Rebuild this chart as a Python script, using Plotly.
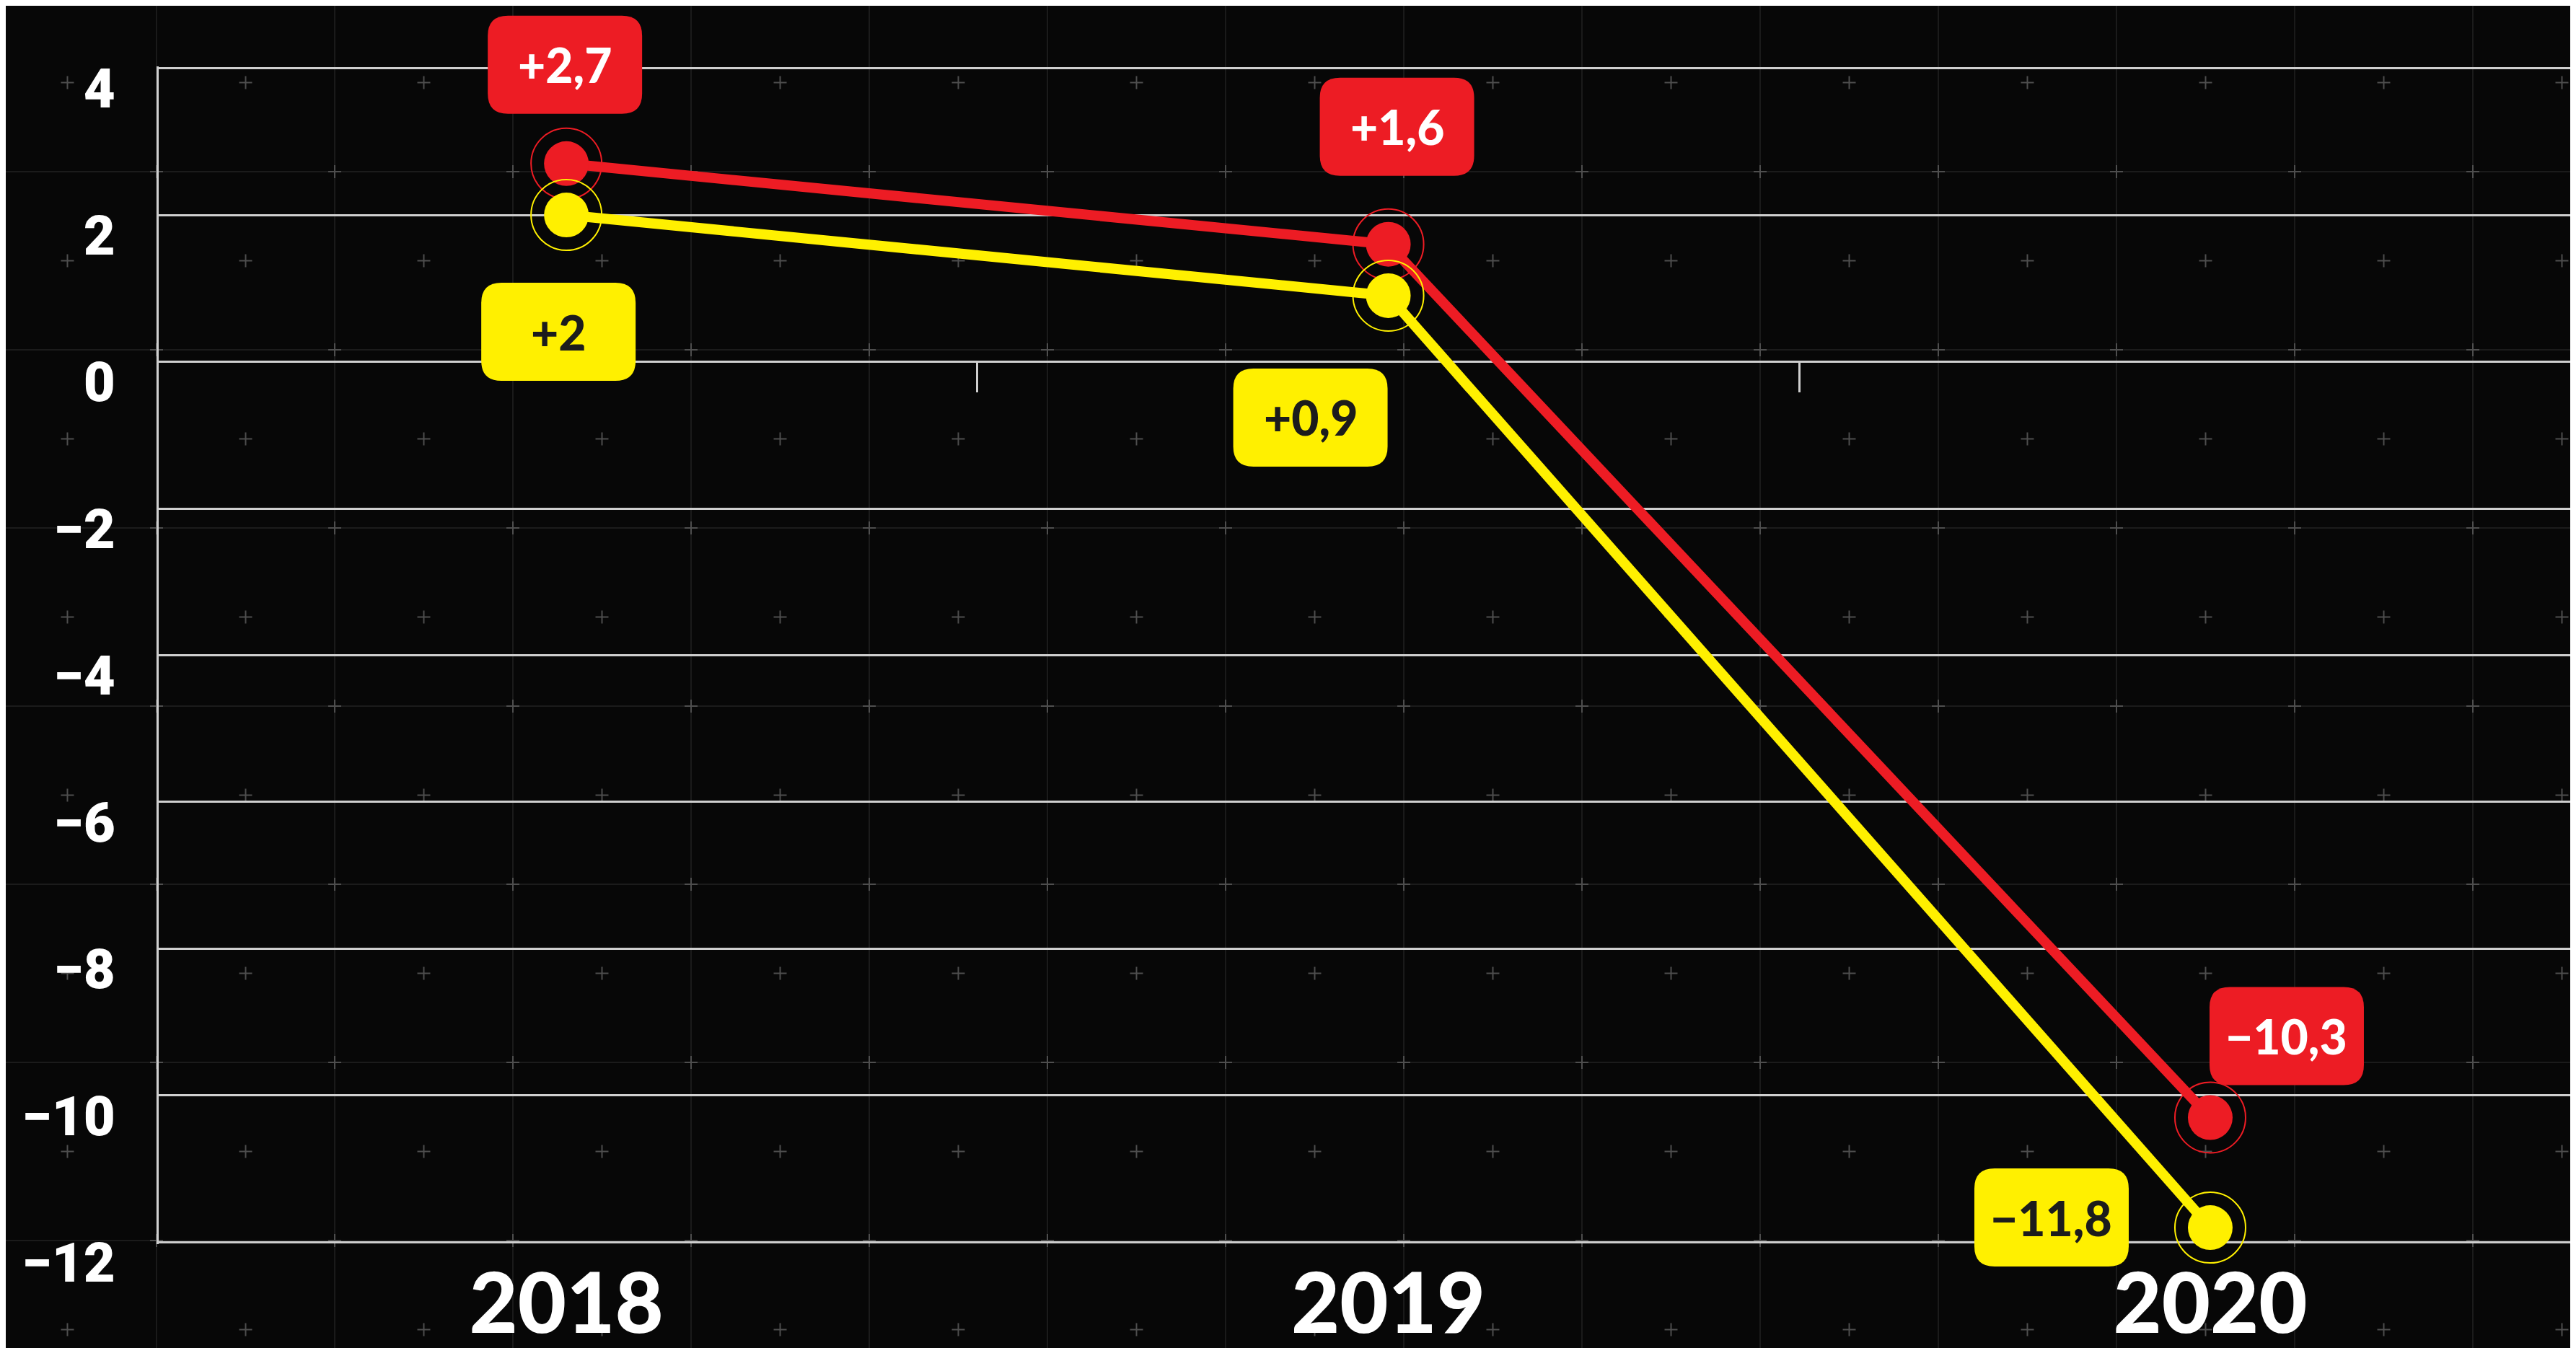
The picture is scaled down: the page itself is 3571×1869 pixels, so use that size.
import plotly.graph_objects as go

# ---------------- data ----------------
years = ["2018", "2019", "2020"]
red_values = [2.7, 1.6, -10.3]
yellow_values = [2.0, 0.9, -11.8]
red_labels = ["+2,7", "+1,6", "\u221210,3"]
yellow_labels = ["+2", "+0,9", "\u221211,8"]
y_tickvals = [-12, -10, -8, -6, -4, -2, 0, 2, 4]

# ---------------- style ----------------
W, H = 3571, 1869
PL, PR, PT, PB = 212, 3571, 84, 1717          # plot-area pixel box
RED = "#ED1C24"
YELLOW = "#FFF000"
BG = "#070707"
GRID = "#cfcfcf"
LABEL_FONT = "Lato, Roboto, sans-serif"
red_offsets = [(-2, 137), (12, 163), (106, 113)]      # px offsets of label boxes
yellow_offsets = [(-11, -162), (-108, -169), (-220, 14)]
BOX_W, BOX_H, BOX_R = 214, 136, 28

xpos = list(range(len(years)))
x_range = [-0.496, 2.452]
y_pad = 0.025
y_range = [min(y_tickvals) - y_pad, max(y_tickvals) + y_pad]

x_dom = [PL / W, PR / W]
y_dom = [(H - PB) / H, (H - PT) / H]
# full-figure overlay axes with the same scale (for unclipped label boxes)
ux = (x_range[1] - x_range[0]) / (PR - PL)
uy = (y_range[1] - y_range[0]) / (PB - PT)
x3_range = [x_range[0] - PL * ux, x_range[1] + (W - PR) * ux]
y3_range = [y_range[0] - (H - PB) * uy, y_range[1] + PT * uy]

fig = go.Figure()

for vals, col in [(red_values, RED), (yellow_values, YELLOW)]:
    fig.add_trace(go.Scatter(x=xpos, y=vals, mode="lines",
                             line=dict(color=col, width=14),
                             hoverinfo="skip", cliponaxis=False, showlegend=False))
for vals, col in [(red_values, RED), (yellow_values, YELLOW)]:
    fig.add_trace(go.Scatter(x=xpos, y=vals, mode="markers",
                             marker=dict(symbol="circle-open", size=98, color=col,
                                         line=dict(color=col, width=2)),
                             hoverinfo="skip", cliponaxis=False, showlegend=False))
    fig.add_trace(go.Scatter(x=xpos, y=vals, mode="markers",
                             marker=dict(symbol="circle", size=62, color=col,
                                         line=dict(width=0)),
                             hoverinfo="skip", cliponaxis=False, showlegend=False))

fig.add_trace(go.Scatter(x=[], y=[], xaxis="x2", yaxis="y", showlegend=False, hoverinfo="skip"))
fig.add_trace(go.Scatter(x=[], y=[], xaxis="x3", yaxis="y3", showlegend=False, hoverinfo="skip"))


def rounded_rect(cx, cy, w, h, r):
    x0, x1 = cx - w / 2, cx + w / 2
    y0, y1 = cy - h / 2, cy + h / 2
    return (f"M {x0 + r},{y0} L {x1 - r},{y0} Q {x1},{y0} {x1},{y0 + r} "
            f"L {x1},{y1 - r} Q {x1},{y1} {x1 - r},{y1} L {x0 + r},{y1} "
            f"Q {x0},{y1} {x0},{y1 - r} L {x0},{y0 + r} Q {x0},{y0} {x0 + r},{y0} Z")


shapes = []
annotations = []

# ---- decorative background lattice (paper coords = full figure) ----
def pxx(px):
    return px / W


def pyy(py):
    return 1 - py / H


STEP = 247
vx = [209 + STEP * k for k in range(-1, 15)]
hy = [230 + STEP * k for k in range(-1, 8)]
grid_path = ""
for x in vx:
    grid_path += f"M {pxx(x):.5f},{pyy(-10):.5f} L {pxx(x):.5f},{pyy(H + 10):.5f} "
for y in hy:
    grid_path += f"M {pxx(-10):.5f},{pyy(y):.5f} L {pxx(W + 10):.5f},{pyy(y):.5f} "
shapes.append(dict(type="path", xref="paper", yref="paper", path=grid_path,
                   line=dict(color="#1b1b1b", width=2), layer="below"))

plus_path = ""
arm = 9
pts = []
for x in vx:
    for y in hy:
        pts.append((x, y))
        pts.append((x + STEP / 2, y + STEP / 2))
for (x, y) in pts:
    if -20 < x < W + 20 and -20 < y < H + 20:
        plus_path += (f"M {pxx(x - arm):.5f},{pyy(y):.5f} L {pxx(x + arm):.5f},{pyy(y):.5f} "
                      f"M {pxx(x):.5f},{pyy(y - arm):.5f} L {pxx(x):.5f},{pyy(y + arm):.5f} ")
shapes.append(dict(type="path", xref="paper", yref="paper", path=plus_path,
                   line=dict(color="#4e4e4e", width=2), layer="below"))

# ---- value label boxes ----
for vals, labels, offs, bg, fg in [
    (red_values, red_labels, red_offsets, RED, "#ffffff"),
    (yellow_values, yellow_labels, yellow_offsets, YELLOW, "#1c1c1c"),
]:
    for i, (v, lab, (dx, dy)) in enumerate(zip(vals, labels, offs)):
        shapes.append(dict(type="path", xref="x3", yref="y3",
                           xsizemode="pixel", ysizemode="pixel",
                           xanchor=xpos[i], yanchor=v,
                           path=rounded_rect(dx, dy, BOX_W, BOX_H, BOX_R),
                           fillcolor=bg, line=dict(width=0), layer="above"))
        annotations.append(dict(x=xpos[i], y=v, xref="x3", yref="y3",
                                xshift=dx, yshift=dy, showarrow=False, text=lab,
                                font=dict(family=LABEL_FONT, size=66, color=fg, weight=900),
                                xanchor="center", yanchor="middle"))

zero_pos = y_dom[0] + (0 - y_range[0]) / (y_range[1] - y_range[0]) * (y_dom[1] - y_dom[0])

fig.update_layout(
    width=W, height=H,
    margin=dict(l=0, r=0, t=0, b=0, pad=0, autoexpand=False),
    paper_bgcolor=BG, plot_bgcolor="rgba(0,0,0,0)",
    shapes=shapes, annotations=annotations,
    showlegend=False, hovermode=False,
    xaxis=dict(domain=x_dom, range=x_range, tickvals=xpos, ticktext=years,
               showgrid=False, zeroline=False, showline=False, ticks="",
               ticklabelstandoff=6, automargin=False,
               tickfont=dict(family=LABEL_FONT, size=116, color="#ffffff", weight=900)),
    xaxis2=dict(domain=x_dom, range=x_range, overlaying="x", anchor="free",
                position=zero_pos, side="bottom", showgrid=False, zeroline=False,
                showline=False, showticklabels=False, ticks="outside", automargin=False,
                tickvals=[0.5, 1.5, 2.5], ticklen=41, tickwidth=3, tickcolor=GRID),
    yaxis=dict(domain=y_dom, range=y_range, tickvals=y_tickvals, showgrid=True,
               gridcolor=GRID, gridwidth=3, zeroline=False, automargin=False,
               showline=True, linecolor=GRID, linewidth=3, ticks="",
               ticklabelstandoff=42, ticklabelshift=28,
               tickfont=dict(family="Roboto, sans-serif", size=76, color="#ffffff", weight=900)),
    xaxis3=dict(domain=[0, 1], range=x3_range, anchor="y3", visible=False,
                fixedrange=True, automargin=False),
    yaxis3=dict(domain=[0, 1], range=y3_range, anchor="x3", visible=False,
                fixedrange=True, automargin=False),
)

fig.write_html("out.html")
